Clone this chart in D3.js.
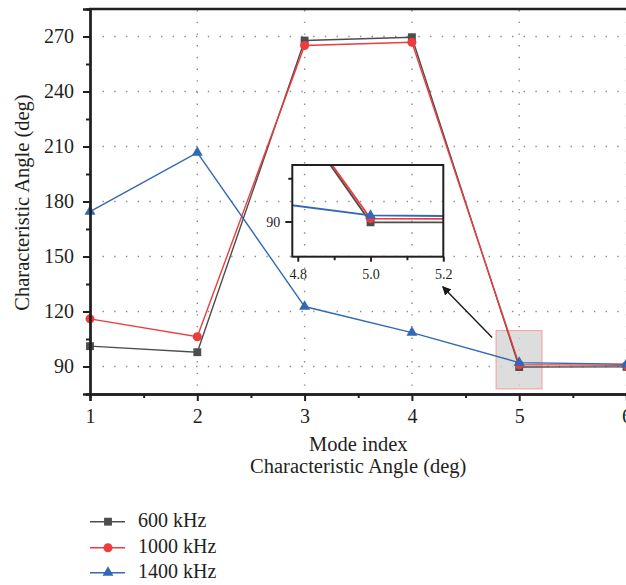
<!DOCTYPE html>
<html>
<head>
<meta charset="utf-8">
<script src="https://cdn.jsdelivr.net/npm/d3@7"></script>
<style>
  html, body { margin: 0; padding: 0; background: #fff; }
  svg { display: block; }
  text { font-family: "Liberation Serif", "DejaVu Serif", serif; fill: #231f20; }
</style>
</head>
<body>
<svg id="chart" width="626" height="585"></svg>
<script>
// Mode indices and characteristic angles (deg) per frequency
const modes = [1, 2, 3, 4, 5, 6];
const angle600 = [101.1, 97.8, 267.8, 269.6, 89.7, 89.8];
const angle1000 = [116.0, 106.2, 265.1, 266.9, 91.0, 90.6];
const angle1400 = [174.5, 206.7, 122.7, 108.5, 92.1, 91.2];
const seriesNames = ["600 kHz", "1000 kHz", "1400 kHz"];
const seriesColors = ["#4d4d4d", "#ee3b3b", "#3268b5"];
const seriesSymbols = [d3.symbolSquare, d3.symbolCircle, d3.symbolTriangle];
const seriesSizes = [62, 64, 52];

const yTicks = [90, 120, 150, 180, 210, 240, 270];
const yMinorTicks = [75, 105, 135, 165, 195, 225, 255];
const xTicks = [1, 2, 3, 4, 5, 6];
const xMinorTicks = [1.5, 2.5, 3.5, 4.5, 5.5];

// zoomed window around mode 5
const zoomX = [4.785, 5.212];
const zoomY = [77.8, 109.6];
const insetXTicks = [4.8, 5.0, 5.2];
const insetXMinor = [4.9, 5.1];
const insetYTicks = [90];
const insetYMinor = [105];

const series = [angle600, angle1000, angle1400].map((vals, i) => ({
  name: seriesNames[i], color: seriesColors[i], symbol: seriesSymbols[i], size: seriesSizes[i],
  points: modes.map((m, j) => ({ x: m, y: vals[j] }))
}));

const svg = d3.select("#chart");
const pL = 90, pR = 626.5, pT = 9, pB = 394;

const x = d3.scaleLinear().domain([1, 6]).range([pL, pR]);
const y = d3.scaleLinear().domain([75, 285]).range([pB, pT]);

// dotted grid
const grid = svg.append("g").attr("stroke", "#8a8a8a").attr("stroke-width", 1.4)
  .attr("stroke-dasharray", "1.4,10.3").attr("fill", "none");
grid.selectAll("line.h").data(yTicks).join("line").attr("class", "h")
  .attr("x1", pL + 12.5).attr("x2", pR).attr("y1", d => y(d)).attr("y2", d => y(d));
grid.selectAll("line.v").data(xTicks.slice(1)).join("line").attr("class", "v")
  .attr("x1", d => x(d)).attr("x2", d => x(d)).attr("y1", pT + 1).attr("y2", pB);

// highlighted zoom window
svg.append("rect")
  .attr("x", x(zoomX[0])).attr("y", y(zoomY[1]))
  .attr("width", x(zoomX[1]) - x(zoomX[0])).attr("height", y(zoomY[0]) - y(zoomY[1]))
  .attr("fill", "#d4d4d4").attr("fill-opacity", 0.8)
  .attr("stroke", "#f2a8a8").attr("stroke-width", 1.2);

// series lines and markers
const line = d3.line().x(d => x(d.x)).y(d => y(d.y));
series.forEach(s => {
  svg.append("path").datum(s.points).attr("d", line)
    .attr("fill", "none").attr("stroke", s.color).attr("stroke-width", 1.4);
  svg.append("g").selectAll("path").data(s.points).join("path")
    .attr("transform", d => `translate(${x(d.x)},${y(d.y)})`)
    .attr("d", d3.symbol().type(s.symbol).size(s.size))
    .attr("fill", s.color);
});

// axes
const axisFont = "20px";
const yAxis = svg.append("g").attr("transform", `translate(${pL},0)`)
  .call(d3.axisLeft(y).tickValues(yTicks).tickSize(7).tickPadding(9));
const yMinor = svg.append("g").attr("transform", `translate(${pL},0)`)
  .call(d3.axisLeft(y).tickValues(yMinorTicks).tickSize(4).tickFormat(""));
const xAxis = svg.append("g").attr("transform", `translate(0,${pB})`)
  .call(d3.axisBottom(x).tickValues(xTicks).tickSize(7).tickPadding(10).tickFormat(d3.format("d")));
const xMinor = svg.append("g").attr("transform", `translate(0,${pB})`)
  .call(d3.axisBottom(x).tickValues(xMinorTicks).tickSize(4).tickFormat(""));
[yAxis, yMinor, xAxis, xMinor].forEach(g => {
  g.select(".domain").attr("stroke", "#231f20").attr("stroke-width", 2.3);
  g.selectAll(".tick line").attr("stroke", "#231f20").attr("stroke-width", 2);
  g.selectAll(".tick text").style("font-family", "Liberation Serif, serif")
    .style("font-size", axisFont).attr("fill", "#231f20");
});
xAxis.selectAll(".tick text").attr("dy", "0.62em");
// frame top edge
svg.append("line").attr("x1", pL - 1).attr("x2", 626).attr("y1", pT).attr("y2", pT)
  .attr("stroke", "#231f20").attr("stroke-width", 2.3);

// axis titles
svg.append("text")
  .attr("transform", `translate(29,${(pT + pB) / 2 + 1}) rotate(-90)`)
  .attr("text-anchor", "middle").style("font-size", "20.5px")
  .text("Characteristic Angle (deg)");
svg.append("text").attr("x", (pL + pR) / 2).attr("y", 451)
  .attr("text-anchor", "middle").style("font-size", "20.5px").text("Mode index");
svg.append("text").attr("x", (pL + pR) / 2).attr("y", 473)
  .attr("text-anchor", "middle").style("font-size", "20.5px").text("Characteristic Angle (deg)");

// inset: zoom on mode 5
const inL = 292.3, inR = 443.3, inT = 165, inB = 256.7;
const xi = d3.scaleLinear().domain([4.785, 5.2]).range([inL, inR]);
const yi = d3.scaleLinear().domain(zoomY.slice(0)).range([inB, inT]);
const defs = svg.append("defs");
defs.append("clipPath").attr("id", "insetClip").append("rect")
  .attr("x", inL).attr("y", inT).attr("width", inR - inL).attr("height", inB - inT);
defs.append("marker").attr("id", "arrowHead").attr("viewBox", "0 0 10 10")
  .attr("refX", 9).attr("refY", 5).attr("markerWidth", 9).attr("markerHeight", 9)
  .attr("markerUnits", "userSpaceOnUse").attr("orient", "auto")
  .append("path").attr("d", "M0,0 L10,5 L0,10 Z").attr("fill", "#1a1a1a");

const inset = svg.append("g");
const insetLines = inset.append("g").attr("clip-path", "url(#insetClip)");
const lineI = d3.line().x(d => xi(d.x)).y(d => yi(d.y));
series.forEach(s => {
  insetLines.append("path").datum(s.points).attr("d", lineI)
    .attr("fill", "none").attr("stroke", s.color).attr("stroke-width", 1.8);
});
series.forEach(s => {
  insetLines.append("g").selectAll("path").data(s.points).join("path")
    .attr("transform", d => `translate(${xi(d.x)},${yi(d.y)})`)
    .attr("d", d3.symbol().type(s.symbol).size(s.size))
    .attr("fill", s.color);
});
inset.append("rect").attr("x", inL).attr("y", inT).attr("width", inR - inL).attr("height", inB - inT)
  .attr("fill", "none").attr("stroke", "#231f20").attr("stroke-width", 2);

const ixAxis = inset.append("g").attr("transform", `translate(0,${inB})`)
  .call(d3.axisBottom(xi).tickValues(insetXTicks).tickSize(5).tickPadding(7).tickFormat(d3.format(".1f")));
const ixMinor = inset.append("g").attr("transform", `translate(0,${inB})`)
  .call(d3.axisBottom(xi).tickValues(insetXMinor).tickSize(3.5).tickFormat(""));
const iyAxis = inset.append("g").attr("transform", `translate(${inL},0)`)
  .call(d3.axisLeft(yi).tickValues(insetYTicks).tickSize(7).tickPadding(5));
const iyMinor = inset.append("g").attr("transform", `translate(${inL},0)`)
  .call(d3.axisLeft(yi).tickValues(insetYMinor).tickSize(4).tickFormat(""));
[ixAxis, ixMinor, iyAxis, iyMinor].forEach(g => {
  g.select(".domain").remove();
  g.selectAll(".tick line").attr("stroke", "#231f20").attr("stroke-width", 2);
  g.selectAll(".tick text").style("font-family", "Liberation Serif, serif")
    .style("font-size", "14px").attr("fill", "#231f20");
});

// arrow from the highlighted window to the inset
svg.append("line")
  .attr("x1", x(zoomX[0]) - 4).attr("y1", y(zoomY[1]) + 7)
  .attr("x2", inR - 0.6).attr("y2", inB + 30)
  .attr("stroke", "#1a1a1a").attr("stroke-width", 1.4)
  .attr("marker-end", "url(#arrowHead)");

// legend
const legendRows = [521.7, 547.7, 572.7];
const legend = svg.append("g");
series.forEach((s, i) => {
  const g = legend.append("g").attr("transform", `translate(0,${legendRows[i]})`);
  g.append("line").attr("x1", 90).attr("x2", 125).attr("stroke", s.color).attr("stroke-width", 1.6);
  g.append("path").attr("transform", "translate(108,0)")
    .attr("d", d3.symbol().type(s.symbol).size(s.size)).attr("fill", s.color);
  g.append("text").attr("x", 138).attr("y", 5.5).style("font-size", "20px").text(s.name);
});
</script>
</body>
</html>
